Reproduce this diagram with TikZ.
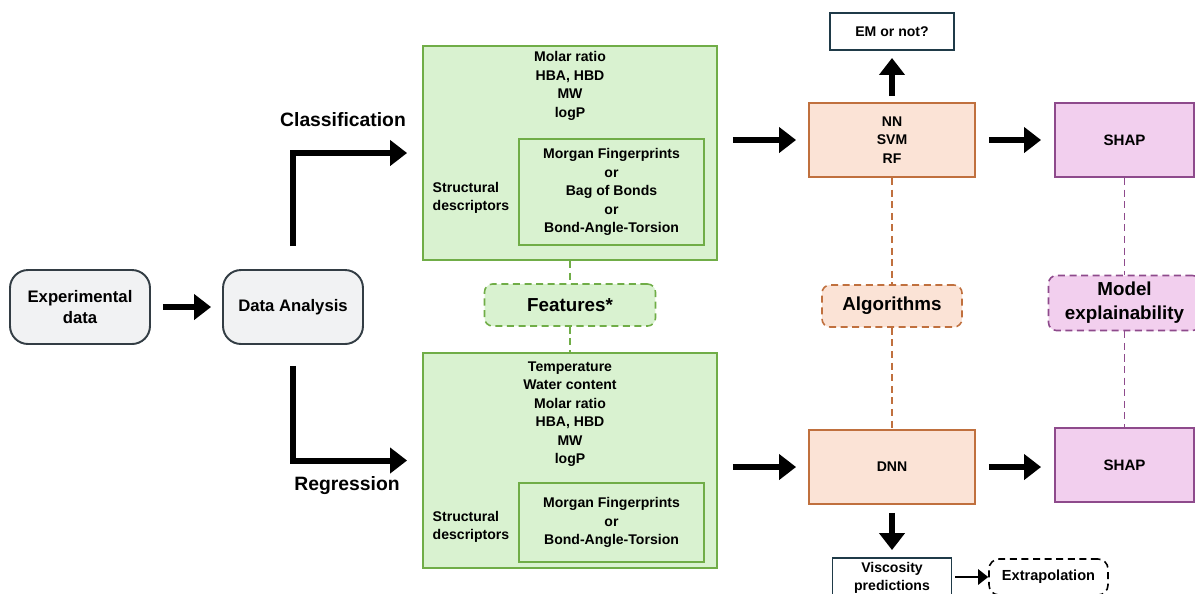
\documentclass[tikz,border=0pt]{standalone}
\usepackage{fontspec}
\setmainfont{Liberation Sans}
\usetikzlibrary{arrows.meta}

\definecolor{featgreen}{HTML}{D9F2D0}
\definecolor{featedge}{HTML}{70AD47}
\definecolor{algpeach}{HTML}{FBE3D6}
\definecolor{algedge}{HTML}{C0703E}
\definecolor{shappink}{HTML}{F2CFEE}
\definecolor{shapedge}{HTML}{8E4A8C}
\definecolor{datagray}{HTML}{F1F2F3}
\definecolor{dataedge}{HTML}{333D44}
\definecolor{outedge}{HTML}{1F3A48}

\begin{document}
\begin{tikzpicture}[x=0.02cm, y=-0.02cm,
  every node/.style={align=center, inner sep=2pt},
  font=\bfseries\fontsize{8}{10.5}\selectfont,
  databox/.style={draw=dataedge, fill=datagray, line width=1.1pt, rounded corners=0.36cm,
    minimum width=2.8cm, minimum height=1.48cm, font=\bfseries\fontsize{9.5}{12}\selectfont},
  featbox/.style={draw=featedge, fill=featgreen, line width=1.1pt, minimum width=5.88cm},
  innerbox/.style={draw=featedge, fill=featgreen, line width=1.1pt, minimum width=3.7cm},
  algbox/.style={draw=algedge, fill=algpeach, line width=1.1pt, minimum width=3.32cm, minimum height=1.48cm},
  shapbox/.style={draw=shapedge, fill=shappink, line width=1.1pt, minimum width=2.78cm, minimum height=1.48cm,
    font=\bfseries\fontsize{8.6}{10.5}\selectfont},
  outbox/.style={draw=outedge, fill=white, line width=1.1pt},
  tagbox/.style={line width=0.9pt, dash pattern=on 4pt off 2.6pt, rounded corners=0.16cm,
    font=\bfseries\fontsize{10.7}{13.6}\selectfont},
  linkline/.style={line width=0.9pt, dash pattern=on 4pt off 2.6pt},
  headlabel/.style={font=\bfseries\fontsize{11}{13}\selectfont},
  bigarrow/.style={line width=3.4pt, -{Triangle[length=0.34cm, width=0.5cm]}},
  smallarrow/.style={line width=1.6pt, -{Triangle[length=0.2cm, width=0.3cm]}}]

  \useasboundingbox (0,0) rectangle (1195,593);
  \clip (0,0) rectangle (1195,593);

  % input and analysis
  \node[databox] (exp) at (80,307) {Experimental\\data};
  \node[databox] (ana) at (293,307) {Data Analysis};
  \draw[bigarrow, shorten <=0.24cm, shorten >=0.22cm] (exp) -- (ana);

  % classification branch
  \node[featbox, minimum height=4.28cm] (clsbox) at (570,153) {};
  \node (clslist) at (570,86) {Molar ratio\\HBA, HBD\\MW\\logP};
  \node[innerbox, minimum height=2.12cm] (clsstruct) at (611.5,192)
    {Morgan Fingerprints\\or\\Bag of Bonds\\or\\Bond-Angle-Torsion};
  \node[align=left] (clsdesc) at (471,198) {Structural\\descriptors};
  \node[headlabel] (clslabel) at (343,120) {Classification};
  \draw[bigarrow, shorten <=0.46cm, shorten >=0.3cm] (ana.north) |- (clsbox.west);

  % regression branch
  \node[featbox, minimum height=4.3cm] (regbox) at (570,460.5) {};
  \node (reglist) at (570,414) {Temperature\\Water content\\Molar ratio\\HBA, HBD\\MW\\logP};
  \node[innerbox, minimum height=1.58cm] (regstruct) at (611.5,522.5)
    {Morgan Fingerprints\\or\\Bond-Angle-Torsion};
  \node[align=left] (regdesc) at (471,527) {Structural\\descriptors};
  \node[headlabel] (reglabel) at (347,486) {Regression};
  \draw[bigarrow, shorten <=0.42cm, shorten >=0.3cm] (ana.south) |- (regbox.west);

  % features tag
  \node[tagbox, draw=featedge, fill=featgreen, minimum width=3.42cm, minimum height=0.84cm] (feat) at (570,305) {Features*};
  \draw[linkline, featedge] (clsbox.south) -- (feat.north);
  \draw[linkline, featedge] (feat.south) -- (regbox.north);

  % algorithms
  \node[algbox] (nn) at (892,140) {NN\\SVM\\RF};
  \node[algbox] (dnn) at (892,467) {DNN};
  \node[tagbox, draw=algedge, fill=algpeach, minimum width=2.8cm, minimum height=0.84cm] (alg) at (892,306) {Algorithms};
  \draw[linkline, algedge] (nn.south) -- (alg.north);
  \draw[linkline, algedge] (alg.south) -- (dnn.north);
  \draw[bigarrow, shorten <=0.3cm, shorten >=0.24cm] (clsbox.east |- nn.west) -- (nn.west);
  \draw[bigarrow, shorten <=0.3cm, shorten >=0.24cm] (regbox.east |- dnn.west) -- (dnn.west);

  % outputs
  \node[outbox, minimum width=2.48cm, minimum height=0.74cm] (em) at (892,31.5) {EM or not?};
  \draw[bigarrow, shorten <=0.12cm, shorten >=0.14cm] (nn.north) -- (em.south);
  \node[outbox, minimum width=2.38cm, minimum height=0.8cm] (visc) at (892,578) {Viscosity\\predictions};
  \draw[bigarrow, shorten <=0.16cm, shorten >=0.14cm] (dnn.south) -- (visc.north);
  \node[draw=black, line width=0.9pt, dash pattern=on 4pt off 2.6pt, rounded corners=0.2cm,
    minimum width=2.38cm, minimum height=0.72cm, font=\bfseries\fontsize{8.3}{10.5}\selectfont] (extra) at (1048.5,577) {Extrapolation};
  \draw[smallarrow, shorten <=0.06cm] (visc.east |- extra.west) -- (extra.west);

  % explainability
  \node[shapbox] (shapcls) at (1124.5,140) {SHAP};
  \node[shapbox] (shapreg) at (1124.5,465) {SHAP};
  \node[tagbox, draw=shapedge, fill=shappink, minimum width=3.04cm, minimum height=1.1cm] (expl) at (1124.5,303) {Model\\explainability};
  \draw[linkline, shapedge] (shapcls.south) -- (expl.north);
  \draw[linkline, shapedge] (expl.south) -- (shapreg.north);
  \draw[bigarrow, shorten <=0.26cm, shorten >=0.26cm] (nn.east) -- (shapcls.west);
  \draw[bigarrow, shorten <=0.26cm, shorten >=0.26cm] (dnn.east) -- (dnn.east -| shapreg.west);
\end{tikzpicture}
\end{document}
